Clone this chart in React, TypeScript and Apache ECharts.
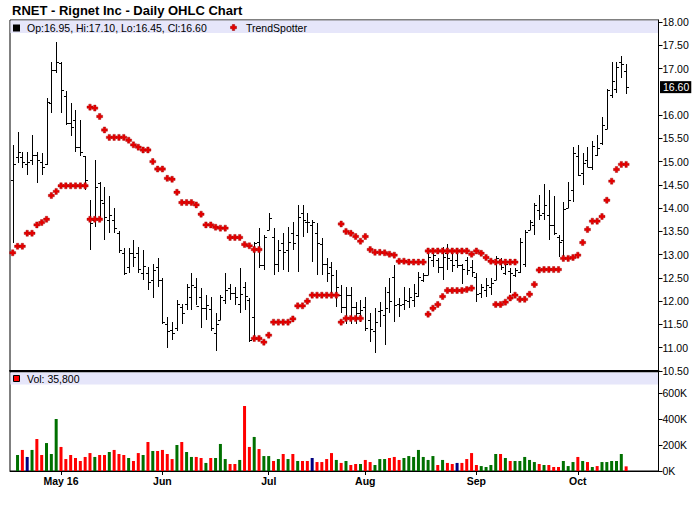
import React, { useEffect, useRef } from "react";
import * as echarts from "echarts";

// ---- trading dates (2016) ----
const aprDays = [18, 19, 20, 21, 22, 25, 26, 27, 28, 29];
const mayDays = [2, 3, 4, 5, 6, 9, 10, 11, 12, 13, 16, 17, 18, 19, 20, 23, 24, 25, 26, 27, 31];
const junDays = [1, 2, 3, 6, 7, 8, 9, 10, 13, 14, 15, 16, 17, 20, 21, 22, 23, 24, 27, 28, 29, 30];
const julDays = [1, 5, 6, 7, 8, 11, 12, 13, 14, 15, 18, 19, 20, 21, 22, 25, 26, 27, 28, 29];
const augDays = [1, 2, 3, 4, 5, 8, 9, 10, 11, 12, 15, 16, 17, 18, 19, 22, 23, 24, 25, 26, 29, 30, 31];
const sepDays = [1, 2, 6, 7, 8, 9, 12, 13, 14, 15, 16, 19, 20, 21, 22, 23, 26, 27, 28, 29, 30];
const octDays = [3, 4, 5, 6, 7, 10, 11, 12, 13, 14, 17];
const monthDays = [aprDays, mayDays, junDays, julDays, augDays, sepDays, octDays];
const monthNums = [4, 5, 6, 7, 8, 9, 10];
const tickMonths = [5, 6, 7, 8, 9, 10];
const tickLabels = ["May 16", "Jun", "Jul", "Aug", "Sep", "Oct"];

// ---- OHLC ----
const opens = [
  14.6, 15.1, 15.1, 14.95, 15.03, 15.14, 15.0, 14.95, 16.25, 16.97,
  17.11, 16.4, 15.82, 15.89, 15.32, 15.11, 13.76, 13.74, 14.53, 14.1,
  13.74, 13.74, 13.46, 13.03, 12.74, 13.03, 13.03, 12.6, 12.6, 12.46,
  12.74, 12.46, 11.52, 11.38, 11.42, 11.88, 11.95, 12.1, 12.31, 12.1,
  11.85, 11.83, 11.31, 11.6, 12.03, 12.28, 12.17, 11.95, 12.31, 12.03,
  11.67, 13.28, 12.78, 13.53, 13.39, 12.81, 13.25, 13.1, 13.46, 13.42,
  13.89, 13.71, 13.63, 13.46, 13.23, 12.81, 12.74, 12.13, 12.13, 11.88,
  12.13, 11.88, 11.74, 11.88, 11.6, 11.35, 11.78, 11.7, 12.2, 12.53,
  11.95, 11.95, 12.0, 12.03, 12.11, 12.46, 12.56, 12.88, 12.88, 12.73,
  13.03, 12.88, 12.88, 12.78, 12.88, 12.74, 12.53, 12.18, 12.25, 12.3,
  12.46, 12.88, 12.6, 12.65, 12.56, 12.63, 12.8, 13.53, 13.63, 13.96,
  13.89, 13.85, 13.64, 13.39, 13.32, 14.0, 14.39, 15.11, 14.75, 15.03,
  14.89, 15.14, 15.39, 15.71, 16.43, 16.57, 17.15, 16.95,
];
const highs = [
  15.36, 15.63, 15.21, 15.21, 15.57, 15.21, 15.18, 16.36, 17.15, 17.57,
  17.13, 16.52, 16.25, 16.11, 15.89, 15.11, 14.17, 15.03, 14.57, 14.46,
  14.25, 14.0, 13.5, 13.14, 13.14, 13.32, 13.17, 13.1, 12.74, 12.81,
  12.92, 12.49, 11.67, 11.56, 12.03, 11.95, 12.38, 12.6, 12.49, 12.28,
  12.13, 12.1, 11.74, 12.13, 12.6, 12.38, 12.31, 12.71, 12.42, 12.06,
  13.28, 13.57, 13.42, 13.9, 13.57, 13.32, 13.46, 13.6, 13.71, 14.07,
  14.07, 13.89, 13.74, 13.67, 13.35, 12.92, 12.85, 12.67, 12.35, 12.31,
  12.31, 11.99, 12.03, 12.1, 11.74, 11.85, 11.99, 12.31, 12.49, 12.78,
  12.06, 12.31, 12.28, 12.38, 12.63, 12.6, 13.1, 13.1, 12.92, 13.16,
  13.23, 13.1, 13.11, 12.81, 12.96, 12.88, 12.6, 12.38, 12.49, 12.49,
  12.97, 12.92, 12.9, 12.71, 12.71, 13.35, 13.53, 13.74, 14.1, 14.28,
  14.52, 14.4, 14.25, 13.42, 14.14, 14.57, 15.32, 15.36, 15.18, 15.32,
  15.45, 15.57, 15.95, 16.55, 17.13, 17.15, 17.27, 17.1,
];
const lows = [
  13.24, 14.96, 14.86, 14.71, 14.93, 14.53, 14.71, 14.93, 16.04, 16.9,
  16.05, 15.79, 15.54, 15.21, 15.11, 14.39, 13.1, 13.6, 13.74, 13.32,
  13.46, 13.46, 13.03, 12.56, 12.6, 12.74, 12.6, 12.46, 12.24, 12.06,
  12.31, 11.52, 10.99, 11.17, 11.35, 11.52, 11.81, 11.81, 11.92, 11.42,
  11.6, 11.35, 10.92, 11.6, 11.95, 12.03, 11.92, 11.74, 11.81, 11.13,
  11.17, 12.71, 12.67, 13.53, 12.56, 12.63, 12.67, 12.63, 13.1, 12.63,
  13.39, 13.46, 12.85, 12.56, 12.56, 12.42, 12.17, 11.88, 11.74, 11.52,
  11.52, 11.52, 11.56, 11.35, 11.13, 10.88, 11.45, 11.06, 11.74, 11.56,
  11.67, 11.81, 11.85, 11.88, 12.1, 12.42, 12.56, 12.74, 12.6, 12.46,
  12.67, 12.63, 12.71, 12.38, 12.56, 12.53, 11.99, 12.06, 12.1, 12.13,
  12.46, 12.67, 12.56, 12.17, 12.53, 12.6, 12.74, 13.53, 13.42, 13.74,
  13.74, 13.32, 13.42, 12.96, 12.92, 14.0, 14.14, 14.68, 14.5, 14.89,
  14.81, 15.11, 15.36, 15.71, 16.36, 16.48, 16.79, 16.45,
];
const closes = [
  14.95, 15.2, 15.0, 15.0, 15.14, 15.03, 14.89, 16.29, 16.97, 17.13,
  16.54, 15.82, 15.75, 15.32, 15.21, 14.6, 13.67, 14.46, 14.17, 13.8,
  13.85, 13.57, 13.1, 12.6, 13.03, 12.95, 12.7, 12.75, 12.42, 12.67,
  12.46, 11.56, 11.35, 11.31, 11.95, 11.74, 12.31, 12.35, 11.9, 11.85,
  11.92, 11.42, 11.5, 12.1, 12.24, 12.17, 12.1, 12.15, 12.12, 11.17,
  13.24, 12.78, 13.39, 13.78, 12.81, 13.1, 13.05, 13.28, 13.25, 13.82,
  13.74, 13.7, 13.7, 13.24, 12.81, 12.6, 12.56, 12.31, 11.88, 12.13,
  11.88, 11.74, 11.81, 11.42, 11.4, 11.55, 11.81, 11.85, 12.0, 11.92,
  11.92, 12.03, 12.08, 12.17, 12.53, 12.56, 12.96, 12.99, 12.74, 12.96,
  12.92, 12.78, 12.78, 12.7, 12.68, 12.62, 12.15, 12.31, 12.35, 12.4,
  12.92, 12.74, 12.8, 12.6, 12.68, 13.28, 13.49, 13.71, 14.07, 13.85,
  14.07, 13.64, 13.46, 13.28, 13.99, 14.17, 15.18, 14.71, 14.96, 14.89,
  15.34, 15.3, 15.79, 16.54, 16.73, 17.04, 17.09, 16.6,
];

// ---- volume (thousands of shares) and its colour code: g up, r down, n unchanged ----
const volumesK: (number | null)[] = [
  null, 123, 162, 108, 162, 246, 123, 215, 131, 400,
  185, 92, 123, 100, 77, 108, 138, 108, 123, 123,
  146, 162, 131, 123, 100, 77, 138, 123, 223, 154,
  154, 162, 131, 92, 200, 223, 146, 108, 108, 100,
  62, 100, 100, 208, 92, 54, 54, 85, 500, 185,
  262, 169, 115, 115, 77, 92, 131, 92, 131, 77,
  77, 77, 100, 69, 69, 92, 138, 85, 62, 77,
  46, 54, 54, 85, 69, 46, 92, 92, 100, 108,
  85, 100, 115, 108, 162, 108, 85, 115, 46, 85,
  62, 54, 62, 62, 92, 138, 46, 38, 31, 46,
  131, 131, 100, 77, 77, 77, 108, 85, 69, 54,
  46, 46, 31, 31, 77, 38, 69, 108, 77, 69,
  31, 38, 69, 69, 77, 77, 131, 35.8,
];
const volumeDir = [
  "-", "g", "r", "n", "g", "r", "r", "g", "g", "g",
  "r", "r", "r", "r", "r", "r", "r", "g", "r", "r",
  "g", "r", "r", "r", "g", "r", "r", "g", "r", "g",
  "r", "r", "r", "r", "g", "r", "g", "g", "r", "r",
  "g", "r", "g", "g", "g", "r", "r", "g", "r", "r",
  "g", "r", "g", "g", "r", "g", "r", "g", "r", "g",
  "r", "r", "n", "r", "r", "r", "r", "g", "r", "g",
  "r", "r", "g", "r", "r", "g", "g", "g", "r", "r",
  "r", "g", "g", "g", "g", "g", "g", "g", "r", "g",
  "r", "r", "n", "r", "r", "r", "r", "g", "g", "g",
  "g", "r", "g", "r", "g", "g", "g", "g", "g", "r",
  "g", "r", "r", "r", "g", "g", "g", "r", "g", "r",
  "g", "r", "g", "g", "g", "g", "g", "r",
];

// ---- TrendSpotter stops (support track below price, resistance track above) ----
const trendLow: (number | null)[] = [
  13.04, 13.18, 13.18, 13.46, 13.46, 13.64, 13.69, 13.76, 14.27, 14.36,
  14.48, 14.48, 14.48, 14.48, 14.48, 14.48, 13.76, 13.76, 13.76, null,
  null, null, null, null, null, null, null, null, null, null,
  null, null, null, null, null, null, null, null, null, null,
  null, null, null, null, null, null, null, null, null, null,
  11.2, 11.2, 11.12, 11.27, 11.55, 11.55, 11.55, 11.55, 11.62, 11.9,
  11.9, 12.0, 12.13, 12.13, 12.13, 12.13, 12.13, 12.13, 11.55, 11.63,
  11.63, 11.63, 11.63, null, null, null, null, null, null, null,
  null, null, null, null, null, null, 11.72, 11.85, 11.93, 12.1,
  12.23, 12.23, 12.23, 12.23, 12.25, 12.28, null, null, null, null,
  11.93, 11.93, 11.98, 12.07, 12.13, 12.04, 12.04, 12.15, 12.36, 12.67,
  12.68, 12.68, 12.68, 12.68, 12.92, 12.92, 12.94, 12.99, 13.26, 13.54,
  13.72, 13.72, 13.82, 14.17, 14.58, 14.83, 14.94, 14.94,
];
const trendHigh: (number | null)[] = [
  null, null, null, null, null, null, null, null, null, null,
  null, null, null, null, null, null, 16.17, 16.15, 15.97, 15.68,
  15.52, 15.52, 15.52, 15.52, 15.46, 15.36, 15.31, 15.25, 15.25, 15.0,
  14.84, 14.84, 14.64, 14.62, 14.34, 14.12, 14.12, 14.12, 14.07, 13.87,
  13.64, 13.64, 13.59, 13.57, 13.57, 13.37, 13.37, 13.37, 13.22, 13.19,
  13.11, 13.11, null, null, null, null, null, null, null, null,
  null, null, null, null, null, null, null, null, 13.66, 13.5,
  13.46, 13.39, 13.29, 13.39, 13.11, 13.05, 13.05, 13.04, 13.01, 12.99,
  12.86, 12.86, 12.84, 12.84, 12.84, 12.84, 13.08, 13.08, 13.08, 13.08,
  13.08, 13.08, 13.08, 13.08, 13.08, 13.01, 13.08, 13.03, 12.94, 12.86,
  12.84, 12.84, 12.84, 12.84, 12.84, null, null, null, null, null,
  null, null, null, null, null, null, null, null, null, null,
  null, null, null, null, null, null, null, null,
];

// ---- axis ticks ----
const priceTicks = [10.5, 11, 11.5, 12, 12.5, 13, 13.5, 14, 14.5, 15, 15.5, 16, 16.5, 17, 17.5, 18];
const volumeTicks = [0, 200000, 400000, 600000];

const FONT = '"Liberation Sans", Arial, Helvetica, sans-serif';
const dirColor: Record<string, string> = { g: "#007000", r: "#ff0000", n: "#000080" };
const markerPath = "path://M1.8,0H4.2V1.8H6V4.2H4.2V6H1.8V4.2H0V1.8H1.8Z";

export default function App() {
  const ref = useRef<HTMLDivElement>(null);

  useEffect(() => {
    document.body.style.margin = "0";
    if (!ref.current) return;
    const chart = echarts.init(ref.current, null, { renderer: "svg" });

    // month tick positions from the date list
    const dateMonth: number[] = [];
    monthDays.forEach((days, m) => days.forEach(() => dateMonth.push(monthNums[m])));
    const tickIdx = tickMonths.map((m) => dateMonth.indexOf(m));
    const labelAt: Record<number, string> = {};
    tickIdx.forEach((ix, k) => (labelAt[ix] = tickLabels[k]));

    const last = closes.length - 1;
    const lastClose = closes[last];
    const xMin = -0.56;
    const xMax = 133.7;
    const pxPerUnit = 349 / 7.5; // 18.00 -> 10.50 spans 349 px
    const priceMax = 18 + 2 / pxPerUnit;
    const volMax = (600000 * 99) / 78;
    // price labels hidden where the highlighted last-close box sits
    const priceLabelTicks = priceTicks.filter((v) => Math.abs(v - lastClose) > 0.2);

    const ohlcData = opens.map((o, i) => [i, o, highs[i], lows[i], closes[i]]);
    const trendData: number[][] = [];
    trendLow.forEach((v, i) => v != null && trendData.push([i, v]));
    trendHigh.forEach((v, i) => v != null && trendData.push([i, v]));
    const volData: any[] = [];
    volumesK.forEach((v, i) => {
      if (v == null) return;
      volData.push({ value: [i, v * 1000], itemStyle: { color: dirColor[volumeDir[i]] } });
    });

    const crisp = (v: number) => Math.round(v) + 0.5;
    const legendText = `Op:${opens[last].toFixed(2)}, Hi:${highs[last].toFixed(2)}, Lo:${lows[last].toFixed(2)}, Cl:${closes[last].toFixed(2)}`;
    const volText = `Vol: ${Math.round(volumesK[last]! * 1000).toLocaleString("en-US")}`;
    const plus = (cx: number, cy: number) =>
      [[1.8, 0], [4.2, 0], [4.2, 1.8], [6, 1.8], [6, 4.2], [4.2, 4.2], [4.2, 6], [1.8, 6], [1.8, 4.2], [0, 4.2], [0, 1.8], [1.8, 1.8]].map(
        ([a, b]) => [cx - 3 + a, cy - 3 + b]
      );

    const axisText = { color: "#000", fontSize: 10.5, fontFamily: FONT };

    chart.setOption({
      animation: false,
      backgroundColor: "#fff",
      textStyle: { fontFamily: FONT },
      grid: [
        { left: 10, right: 41.5, top: 20, height: 351, show: true, borderColor: "#000", borderWidth: 1, backgroundColor: "transparent" },
        { left: 10, right: 41.5, top: 372, height: 99, show: true, borderColor: "#000", borderWidth: 1, backgroundColor: "transparent" },
      ],
      xAxis: [
        {
          type: "value", gridIndex: 0, min: xMin, max: xMax,
          axisLine: { show: true, onZero: false, lineStyle: { color: "#000", width: 2 } },
          axisTick: { show: false }, axisLabel: { show: false }, splitLine: { show: false },
        },
        {
          type: "value", gridIndex: 1, min: xMin, max: xMax,
          axisLine: { show: true, onZero: false, lineStyle: { color: "#000", width: 1 } },
          axisTick: { show: true, customValues: tickIdx, length: 4, lineStyle: { color: "#000" } },
          axisLabel: {
            show: true, customValues: tickIdx, margin: 4, fontWeight: "bold", ...axisText,
            formatter: (v: number) => labelAt[Math.round(v)] ?? "",
          },
          splitLine: { show: false },
        },
      ],
      yAxis: [
        {
          type: "value", gridIndex: 0, position: "right", min: 10.5, max: priceMax,
          axisLine: { show: true, onZero: false, lineStyle: { color: "#000" } },
          axisTick: { show: true, customValues: priceLabelTicks, length: 4, lineStyle: { color: "#000" } },
          axisLabel: { customValues: priceLabelTicks, margin: 4, ...axisText, formatter: (v: number) => v.toFixed(2) },
          splitLine: { show: false },
        },
        {
          type: "value", gridIndex: 1, position: "right", min: 0, max: volMax,
          axisLine: { show: true, onZero: false, lineStyle: { color: "#000" } },
          axisTick: { show: true, customValues: volumeTicks, length: 4, lineStyle: { color: "#000" } },
          axisLabel: { customValues: volumeTicks, margin: 4, ...axisText, formatter: (v: number) => `${Math.round(v / 1000)}K` },
          splitLine: { show: false },
        },
      ],
      graphic: [
        { type: "rect", z: 0, silent: true, shape: { x: 10.5, y: 20.5, width: 647.5, height: 12.5 }, style: { fill: "#e6e6fa" } },
        { type: "rect", z: 0, silent: true, shape: { x: 10.5, y: 372.5, width: 647.5, height: 12 }, style: { fill: "#e6e6fa" } },
        {
          type: "text", z: 10, x: 12, y: 10,
          style: { text: "RNET - Rignet Inc - Daily OHLC Chart", font: `bold 13px ${FONT}`, fill: "#000", textAlign: "left", textVerticalAlign: "middle", align: "left", verticalAlign: "middle" },
        },
        { type: "rect", z: 10, shape: { x: 13, y: 24.5, width: 7, height: 7 }, style: { fill: "#000" } },
        {
          type: "text", z: 10, x: 27, y: 27.8,
          style: { text: legendText, font: `10.5px ${FONT}`, fill: "#000", textAlign: "left", textVerticalAlign: "middle", align: "left", verticalAlign: "middle" },
        },
        { type: "polygon", z: 10, shape: { points: plus(233.5, 27.5) }, style: { fill: "#e60000", stroke: "#990000", lineWidth: 0.5 } },
        {
          type: "text", z: 10, x: 246, y: 27.8,
          style: { text: "TrendSpotter", font: `10.5px ${FONT}`, fill: "#000", textAlign: "left", textVerticalAlign: "middle", align: "left", verticalAlign: "middle" },
        },
        { type: "rect", z: 10, shape: { x: 13.5, y: 375.5, width: 6, height: 6 }, style: { fill: "#ff0000", stroke: "#000", lineWidth: 1 } },
        {
          type: "text", z: 10, x: 27, y: 379.3,
          style: { text: volText, font: `10.5px ${FONT}`, fill: "#000", textAlign: "left", textVerticalAlign: "middle", align: "left", verticalAlign: "middle" },
        },
      ],
      series: [
        {
          name: "OHLC",
          type: "custom",
          xAxisIndex: 0,
          yAxisIndex: 0,
          data: ohlcData,
          encode: { x: 0, y: [1, 2, 3, 4] },
          z: 2,
          renderItem: (_params: any, api: any) => {
            const x = api.value(0);
            const o = api.coord([x, api.value(1)]);
            const h = api.coord([x, api.value(2)]);
            const l = api.coord([x, api.value(3)]);
            const c = api.coord([x, api.value(4)]);
            const cx = crisp(o[0]);
            const st = { stroke: "#000", lineWidth: 1 };
            return {
              type: "group",
              children: [
                { type: "line", shape: { x1: cx, y1: Math.round(h[1]), x2: cx, y2: Math.round(l[1]) }, style: st },
                { type: "line", shape: { x1: cx - 2.5, y1: crisp(o[1]), x2: cx, y2: crisp(o[1]) }, style: st },
                { type: "line", shape: { x1: cx, y1: crisp(c[1]), x2: cx + 2.5, y2: crisp(c[1]) }, style: st },
              ],
            };
          },
          markLine: {
            silent: true,
            symbol: ["none", "none"],
            lineStyle: { color: "rgba(0,0,0,0)", width: 0, type: "solid" },
            data: [{ yAxis: lastClose }],
            label: {
              show: true,
              position: "end",
              distance: 1.5,
              formatter: () => lastClose.toFixed(2),
              color: "#fff",
              opacity: 1,
              backgroundColor: "#000",
              padding: [1, 2, 0, 3],
              fontSize: 10.5,
              fontFamily: FONT,
            },
          },
        },
        {
          name: "TrendSpotter",
          type: "scatter",
          xAxisIndex: 0,
          yAxisIndex: 0,
          data: trendData,
          symbol: markerPath,
          symbolSize: 6,
          z: 4,
          itemStyle: { color: "#e60000", borderColor: "#a00000", borderWidth: 0.4, opacity: 1 },
        },
        {
          name: "Volume",
          type: "bar",
          xAxisIndex: 1,
          yAxisIndex: 1,
          data: volData,
          barWidth: 3,
          z: 2,
        },
      ],
    });

    return () => chart.dispose();
  }, []);

  return (
    <div
      ref={ref}
      style={{ position: "absolute", left: 0, top: 0, width: 700, height: 512, background: "#fff" }}
    />
  );
}
